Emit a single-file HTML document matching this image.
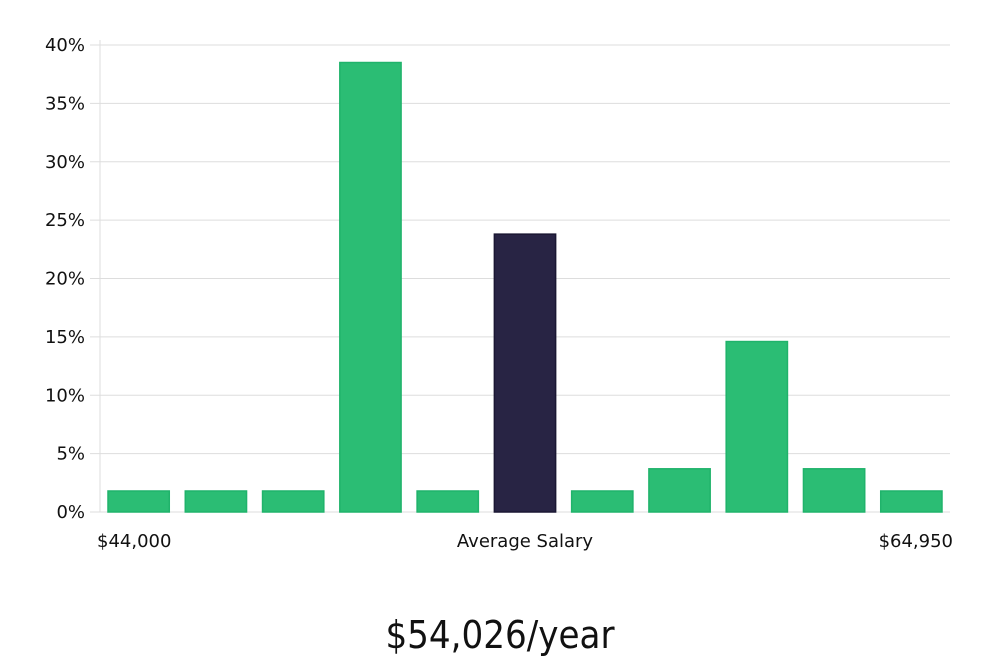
<!DOCTYPE html>
<html><head><meta charset="utf-8"><style>
body{margin:0;background:#fff;width:1000px;height:660px;overflow:hidden}
svg text{font-family:"DejaVu Sans","Liberation Sans",sans-serif;fill:#111}
</style></head><body>
<svg id="chart" width="1000" height="660"></svg>
<script>
const categories=["b1","b2","b3","b4","b5","avg","b7","b8","b9","b10","b11"];
const values=[1.8,1.8,1.8,38.5,1.8,23.8,1.8,3.7,14.6,3.7,1.8];
const highlight=[false,false,false,false,false,true,false,false,false,false,false];
const yTicks=[0,5,10,15,20,25,30,35,40];
const xLabels=["$44,000","Average Salary","$64,950"];
const NS="http://www.w3.org/2000/svg";
const svg=document.getElementById('chart');
const x0=100,x1=950,y0=512,yTop=45,yMax=40;
const y=v=>y0-(v/yMax)*(y0-yTop);
const slot=(x1-x0)/categories.length;
const xb=i=>x0+i*slot;
function mk(t,a){const e=document.createElementNS(NS,t);for(const k in a)e.setAttribute(k,a[k]);svg.appendChild(e);return e;}
const ya=mk('line',{x1:x0,x2:x0,y1:40,y2:y0,stroke:'#ddd'});


yTicks.forEach(t=>{
 const g=mk('line',{x1:90,x2:x1,y1:y(t),y2:y(t),stroke:'#ddd'});
 
 
 const l=mk('text',{x:85,y:y(t)+6,'text-anchor':'end','font-size':18});
 l.textContent=t+'%';
 
 
});
values.forEach((v,i)=>{
 const h=highlight[i];
 const r=mk('rect',{x:xb(i)+8,y:y(v),width:slot-16,height:y0-y(v),fill:h?'#282444':'#2bbd74',stroke:h?'#1a1733':'#20b36b','stroke-width':1.5});
 
 
});
const anchors=[['start',97],['middle',525],['end',953]];
xLabels.forEach((s,i)=>{
 const t=mk('text',{x:anchors[i][1],y:547,'text-anchor':anchors[i][0],'font-size':18});
 t.textContent=s;
 
 
});
const ti=mk('text',{x:500,y:648,'text-anchor':'middle','font-size':38,'font-stretch':'condensed',style:'font-family:"DejaVu Sans Condensed","Liberation Sans Narrow",sans-serif;font-weight:300'});
ti.textContent='$54,026/year';


</script>
</body></html>
